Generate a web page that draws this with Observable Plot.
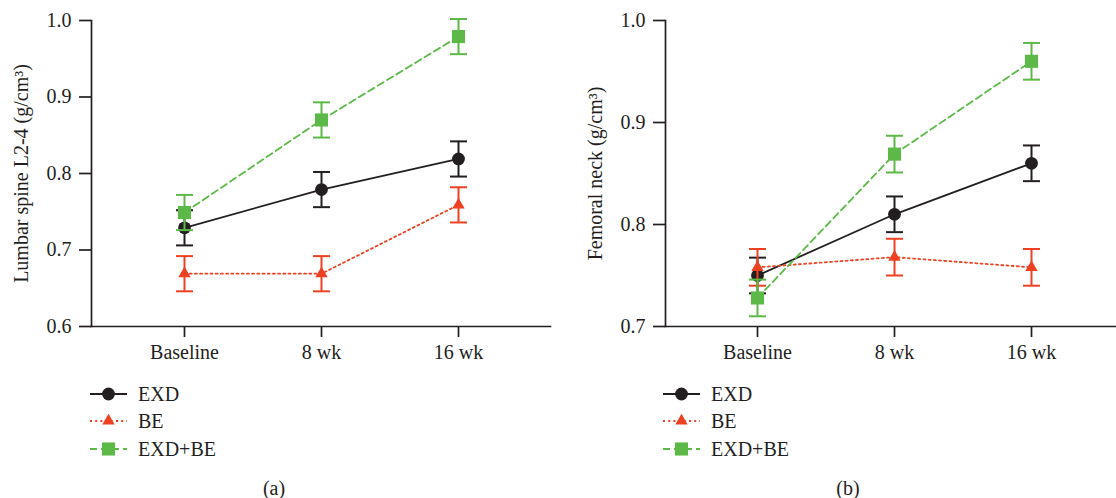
<!DOCTYPE html>
<html><head><meta charset="utf-8">
<script src="https://cdn.jsdelivr.net/npm/d3@7"></script>
<script src="https://cdn.jsdelivr.net/npm/@observablehq/plot@0.6"></script>
<style>
body{margin:0;background:#fff;}
#fig{position:relative;width:1116px;height:498px;overflow:hidden;font-family:"Liberation Serif","Times New Roman",serif;color:#231f20;}
.panel{position:absolute;top:0;}
.legend{position:absolute;font-size:20px;line-height:1;}
.legend .row{display:flex;align-items:center;height:27.5px;}
.legend svg{margin-right:11px;}
.caption{position:absolute;font-size:20px;transform:translate(-50%,-50%);}
</style></head><body><div id="fig"></div>
<script>
// ---- data ----
const timepoints = ["Baseline", "8 wk", "16 wk"];
const groups = ["EXD", "BE", "EXD+BE"];
const groupColors = ["#231f20", "#ee4124", "#5cb947"];

// Panel (a): Lumbar spine L2-4
const lumbarEXD = [0.729, 0.779, 0.819];
const lumbarEXDErr = [0.023, 0.023, 0.023];
const lumbarBE = [0.669, 0.669, 0.759];
const lumbarBEErr = [0.023, 0.023, 0.023];
const lumbarEXDBE = [0.749, 0.870, 0.979];
const lumbarEXDBEErr = [0.023, 0.023, 0.023];
const lumbarTicks = [0.6, 0.7, 0.8, 0.9, 1.0];

// Panel (b): Femoral neck
const femoralEXD = [0.750, 0.810, 0.860];
const femoralEXDErr = [0.0175, 0.0175, 0.0175];
const femoralBE = [0.758, 0.768, 0.758];
const femoralBEErr = [0.018, 0.018, 0.018];
const femoralEXDBE = [0.728, 0.869, 0.960];
const femoralEXDBEErr = [0.018, 0.018, 0.018];
const femoralTicks = [0.7, 0.8, 0.9, 1.0];

// ---- styling ----
const dashes = {"EXD": null, "BE": "2,3.2", "EXD+BE": "7,4"};
const symbols = {"EXD": "circle", "BE": "triangle", "EXD+BE": "square"};
const radii = {"EXD": 6.4, "BE": 4.6, "EXD+BE": 7.4};
const capSymbol = {draw(ctx, size) { const r = Math.sqrt(size / Math.PI); ctx.moveTo(-r, 0); ctx.lineTo(r, 0); }};

function rowsFor(vals, errs) {
  const rows = [];
  groups.forEach((g, gi) => timepoints.forEach((t, ti) => rows.push({time: t, group: g, value: vals[gi][ti], err: errs[gi][ti]})));
  return rows;
}

function panel({rows, yDomain, yTicks, yLabel, width, marginLeft, marginRight, xRange, labelOffset}) {
  const marks = [
    Plot.frame({anchor: "left", stroke: "#231f20", strokeWidth: 1.7}),
    Plot.frame({anchor: "bottom", stroke: "#231f20", strokeWidth: 1.7}),
    Plot.axisY({ticks: yTicks, tickFormat: ".1f", tickSize: 12, tickPadding: 8, fontSize: 20, strokeWidth: 1.7,
      label: yLabel, labelAnchor: "center", labelArrow: "none", labelOffset}),
    Plot.axisX({tickSize: 11, tickPadding: 7, fontSize: 20, strokeWidth: 1.7, label: null})
  ];
  for (const g of groups) {
    const sub = rows.filter(d => d.group === g);
    const col = groupColors[groups.indexOf(g)];
    marks.push(Plot.line(sub, {x: "time", y: "value", stroke: col, strokeWidth: 1.8, strokeDasharray: dashes[g]}));
  }
  for (const g of groups) {
    const sub = rows.filter(d => d.group === g);
    const col = groupColors[groups.indexOf(g)];
    marks.push(Plot.ruleX(sub, {x: "time", y1: d => d.value - d.err, y2: d => d.value + d.err, stroke: col, strokeWidth: 2}));
    marks.push(Plot.dot(sub, {x: "time", y: d => d.value - d.err, symbol: capSymbol, r: 8.5, stroke: col, strokeWidth: 2, fill: "none"}));
    marks.push(Plot.dot(sub, {x: "time", y: d => d.value + d.err, symbol: capSymbol, r: 8.5, stroke: col, strokeWidth: 2, fill: "none"}));
    marks.push(Plot.dot(sub, {x: "time", y: "value", symbol: symbols[g], r: radii[g], fill: col, stroke: "none"}));
  }
  return Plot.plot({
    width, height: 370, marginTop: 20, marginBottom: 44, marginLeft, marginRight,
    style: {fontFamily: '"Liberation Serif","Times New Roman",serif', fontSize: "20px", color: "#231f20", background: "transparent"},
    x: {type: "point", domain: timepoints, range: xRange, padding: 0},
    y: {domain: yDomain},
    marks
  });
}

function legend() {
  const div = document.createElement("div");
  div.className = "legend";
  groups.forEach((g, i) => {
    const row = document.createElement("div");
    row.className = "row";
    const col = groupColors[i];
    const svg = d3.create("svg").attr("width", 37).attr("height", 20);
    svg.append("line").attr("x1", 0).attr("x2", 37).attr("y1", 10).attr("y2", 10)
      .attr("stroke", col).attr("stroke-width", 1.8).attr("stroke-dasharray", dashes[g] || null);
    const sym = d3.symbol(g === "EXD" ? d3.symbolCircle : g === "BE" ? d3.symbolTriangle : d3.symbolSquare, Math.PI * radii[g] * radii[g]);
    svg.append("path").attr("d", sym()).attr("transform", "translate(18.5,10)").attr("fill", col);
    row.appendChild(svg.node());
    const span = document.createElement("span");
    span.textContent = g;
    row.appendChild(span);
    div.appendChild(row);
  });
  return div;
}

const fig = document.getElementById("fig");

const left = panel({
  rows: rowsFor([lumbarEXD, lumbarBE, lumbarEXDBE], [lumbarEXDErr, lumbarBEErr, lumbarEXDBEErr]),
  yDomain: [0.6, 1.0], yTicks: lumbarTicks, yLabel: "Lumbar spine L2-4 (g/cm³)",
  width: 560, marginLeft: 91, marginRight: 10, xRange: [183, 458], labelOffset: 78
});
left.classList.add("panel"); left.style.left = "0px";
fig.appendChild(left);

const right = panel({
  rows: rowsFor([femoralEXD, femoralBE, femoralEXDBE], [femoralEXDErr, femoralBEErr, femoralEXDBEErr]),
  yDomain: [0.7, 1.0], yTicks: femoralTicks, yLabel: "Femoral neck (g/cm³)",
  width: 556, marginLeft: 105, marginRight: 0, xRange: [196, 471], labelOffset: 78
});
right.classList.add("panel"); right.style.left = "560px";
fig.appendChild(right);

const lg1 = legend(); lg1.style.left = "90px"; lg1.style.top = "380px"; fig.appendChild(lg1);
const lg2 = legend(); lg2.style.left = "663px"; lg2.style.top = "380px"; fig.appendChild(lg2);

const capA = document.createElement("div"); capA.className = "caption"; capA.textContent = "(a)";
capA.style.left = "274px"; capA.style.top = "488px"; fig.appendChild(capA);
const capB = document.createElement("div"); capB.className = "caption"; capB.textContent = "(b)";
capB.style.left = "848px"; capB.style.top = "488px"; fig.appendChild(capB);
</script>
</body></html>
